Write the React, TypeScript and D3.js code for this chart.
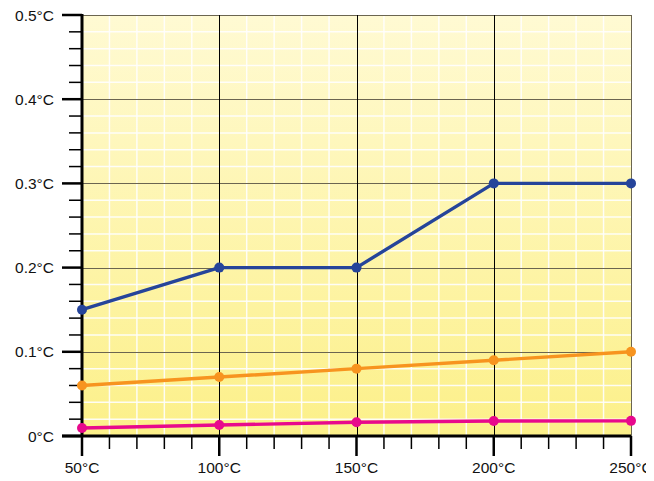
import React, { useEffect, useRef } from 'react';
import * as d3 from 'd3';

const temps = [50, 100, 150, 200, 250];
const blueSeries = [0.15, 0.2, 0.2, 0.3, 0.3];
const orangeSeries = [0.06, 0.07, 0.08, 0.09, 0.1];
const pinkSeries = [0.0095, 0.013, 0.0163, 0.0178, 0.018];
const xTicks = [50, 100, 150, 200, 250];
const yTicks = [0, 0.1, 0.2, 0.3, 0.4, 0.5];

const SERIES = [
    { values: blueSeries, color: '#25449a' },
    { values: orangeSeries, color: '#f7941f' },
    { values: pinkSeries, color: '#e8098c' },
];

const WIDTH = 654;
const HEIGHT = 481;
const FONT = '"Liberation Sans", Arial, Helvetica, sans-serif';
const FONT_SIZE = 15.5;

export default function App()
{
    const svgRef = useRef<SVGSVGElement>(null);

    useEffect(() =>
    {
        const margin = { top: 15, right: 23, bottom: 45, left: 82 };
        const innerWidth = WIDTH - margin.left - margin.right;
        const innerHeight = HEIGHT - margin.top - margin.bottom;

        const svg = d3.select(svgRef.current);
        svg.selectAll('*').remove();
        svg.attr('width', WIDTH).attr('height', HEIGHT);

        const defs = svg.append('defs');
        const grad = defs.append('linearGradient')
            .attr('id', 'bg').attr('x1', 0).attr('y1', 0).attr('x2', 0).attr('y2', 1);
        grad.append('stop').attr('offset', '0%').attr('stop-color', '#fffad3');
        grad.append('stop').attr('offset', '100%').attr('stop-color', '#fcf089');

        const g = svg.append('g').attr('transform', `translate(${ margin.left },${ margin.top })`);

        const x = d3.scaleLinear().domain([50, 250]).range([0, innerWidth]);
        const y = d3.scaleLinear().domain([0, 0.5]).range([innerHeight, 0]);

        g.append('rect').attr('width', innerWidth).attr('height', innerHeight).attr('fill', 'url(#bg)');

        const xMinor = d3.range(50, 251, 10).filter((v) => v % 50 !== 0);
        const yMinor = d3.range(0, 0.501, 0.02).filter((v) => Math.abs(v * 10 - Math.round(v * 10)) > 1e-6);

        // minor white grid
        g.selectAll('.vminor').data(xMinor).enter().append('line')
            .attr('x1', (d) => x(d)).attr('x2', (d) => x(d)).attr('y1', 0).attr('y2', innerHeight)
            .attr('stroke', '#ffffff').attr('stroke-width', 1.5).attr('opacity', 0.9);
        g.selectAll('.hminor').data(yMinor).enter().append('line')
            .attr('y1', (d) => y(d)).attr('y2', (d) => y(d)).attr('x1', 0).attr('x2', innerWidth)
            .attr('stroke', '#ffffff').attr('stroke-width', 1.5).attr('opacity', 0.9);

        // major grid
        g.selectAll('.hmajor').data(yTicks.slice(1)).enter().append('line')
            .attr('y1', (d) => Math.round(y(d)) + 0.5).attr('y2', (d) => Math.round(y(d)) + 0.5)
            .attr('x1', 0).attr('x2', innerWidth)
            .attr('stroke', '#6b6550').attr('stroke-width', 1);
        g.selectAll('.vmajor').data(xTicks.slice(1)).enter().append('line')
            .attr('x1', (d) => Math.round(x(d)) + 0.5).attr('x2', (d) => Math.round(x(d)) + 0.5)
            .attr('y1', 0).attr('y2', innerHeight)
            .attr('stroke', (d) => (d === 250 ? '#6b6550' : '#000000')).attr('stroke-width', 1);

        // axes
        const yAxis = g.append('g');
        yAxis.append('line').attr('x1', 0).attr('x2', 0).attr('y1', -1).attr('y2', innerHeight)
            .attr('stroke', '#000').attr('stroke-width', 3);
        yAxis.selectAll('.ymaj').data(yTicks).enter().append('line')
            .attr('x1', -20).attr('x2', 0).attr('y1', (d) => y(d)).attr('y2', (d) => y(d))
            .attr('stroke', '#000').attr('stroke-width', 2.5);
        yAxis.selectAll('.ymin').data(yMinor).enter().append('line')
            .attr('x1', -13).attr('x2', 0).attr('y1', (d) => y(d)).attr('y2', (d) => y(d))
            .attr('stroke', '#000').attr('stroke-width', 1.5);
        yAxis.selectAll('.ylab').data(yTicks).enter().append('text')
            .attr('x', -28).attr('y', (d) => y(d)).attr('dy', '0.36em')
            .attr('text-anchor', 'end')
            .style('font-family', FONT).style('font-size', `${ FONT_SIZE }px`)
            .attr('fill', '#111')
            .text((d) => `${ d === 0 ? '0' : d.toFixed(1) }°C`);

        const xAxis = g.append('g').attr('transform', `translate(0,${ innerHeight })`);
        xAxis.append('line').attr('x1', -20).attr('x2', innerWidth).attr('y1', 0).attr('y2', 0)
            .attr('stroke', '#000').attr('stroke-width', 3);
        xAxis.selectAll('.xmaj').data(xTicks).enter().append('line')
            .attr('x1', (d) => x(d)).attr('x2', (d) => x(d)).attr('y1', 0).attr('y2', 20)
            .attr('stroke', '#000').attr('stroke-width', 2.5);
        xAxis.selectAll('.xmin').data(xMinor).enter().append('line')
            .attr('x1', (d) => x(d)).attr('x2', (d) => x(d)).attr('y1', 0).attr('y2', 13)
            .attr('stroke', '#000').attr('stroke-width', 1.5);
        xAxis.selectAll('.xlab').data(xTicks).enter().append('text')
            .attr('x', (d) => x(d)).attr('y', 37)
            .attr('text-anchor', 'middle')
            .style('font-family', FONT).style('font-size', `${ FONT_SIZE }px`)
            .attr('fill', '#111')
            .text((d) => `${ d }°C`);

        // series
        SERIES.forEach((s) =>
        {
            const line = d3.line<number>().x((_, i) => x(temps[i])).y((d) => y(d));
            g.append('path').datum(s.values)
                .attr('fill', 'none').attr('stroke', s.color).attr('stroke-width', 3.4)
                .attr('stroke-linejoin', 'round').attr('d', line);
            g.selectAll(null).data(s.values).enter().append('circle')
                .attr('cx', (_, i) => x(temps[i])).attr('cy', (d) => y(d)).attr('r', 5)
                .attr('fill', s.color);
        });
    }, []);

    return (
        <div style={ { margin: -8 } }>
            <svg ref={ svgRef } style={ { display: 'block' } } />
        </div>
    );
}
